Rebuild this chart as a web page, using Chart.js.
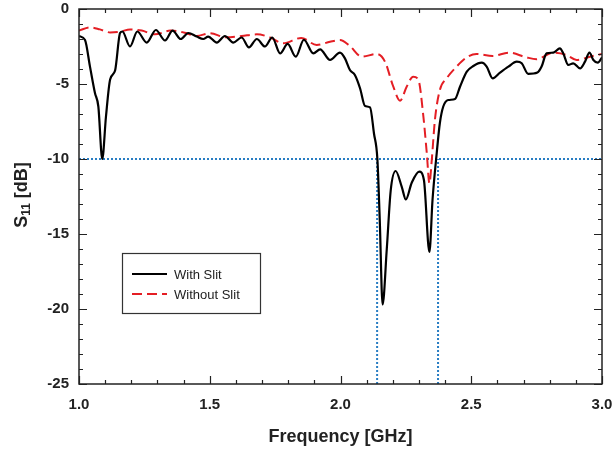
<!DOCTYPE html>
<html>
<head>
<meta charset="utf-8">
<script src="https://cdn.jsdelivr.net/npm/chart.js@4.4.0/dist/chart.umd.min.js"></script>
<style>
  html, body { margin: 0; padding: 0; background: #fff; }
  #wrap { width: 612px; height: 454px; }
</style>
</head>
<body>
<div id="wrap"><canvas id="s11"></canvas></div>
<script>
// With Slit (black solid)
const slitFreq = [1.0, 1.023, 1.042, 1.061, 1.074, 1.089, 1.103, 1.119, 1.138, 1.157, 1.166, 1.195, 1.223, 1.259, 1.294, 1.329, 1.358, 1.389, 1.418, 1.45, 1.475, 1.494, 1.527, 1.558, 1.59, 1.622, 1.65, 1.68, 1.711, 1.739, 1.769, 1.798, 1.829, 1.86, 1.896, 1.922, 1.96, 1.998, 2.017, 2.036, 2.055, 2.075, 2.094, 2.113, 2.128, 2.141, 2.15, 2.161, 2.177, 2.192, 2.211, 2.234, 2.25, 2.272, 2.301, 2.319, 2.34, 2.352, 2.368, 2.38, 2.393, 2.412, 2.438, 2.457, 2.483, 2.508, 2.54, 2.559, 2.582, 2.61, 2.642, 2.674, 2.693, 2.718, 2.753, 2.769, 2.788, 2.814, 2.839, 2.852, 2.871, 2.89, 2.916, 2.935, 2.952, 2.967, 2.984, 3.0];
const slitS11 = [-1.8, -2.07, -3.84, -5.6, -6.5, -10.0, -7.2, -4.7, -4.1, -1.6, -1.5, -2.5, -1.5, -2.24, -1.4, -2.1, -1.44, -2.0, -1.6, -1.84, -2.0, -1.84, -2.24, -1.8, -2.24, -1.9, -2.56, -2.0, -2.5, -1.9, -2.96, -2.33, -3.18, -2.05, -2.96, -2.69, -3.4, -2.91, -3.29, -4.07, -4.4, -5.3, -6.47, -6.56, -8.3, -10.0, -14.0, -19.7, -16.0, -12.1, -10.8, -11.84, -12.7, -11.6, -10.84, -11.4, -16.2, -12.7, -9.6, -7.6, -6.5, -6.07, -6.0, -5.18, -4.18, -3.8, -3.58, -3.84, -4.62, -4.24, -3.84, -3.51, -3.62, -4.33, -4.24, -3.84, -2.96, -2.91, -2.62, -2.96, -3.73, -3.62, -3.96, -3.51, -2.91, -3.4, -3.58, -3.22];

// Without Slit (red dashed)
const noSlitFreq = [1.0, 1.042, 1.08, 1.119, 1.157, 1.195, 1.24, 1.29, 1.35, 1.4, 1.45, 1.5, 1.564, 1.622, 1.68, 1.73, 1.781, 1.85, 1.909, 1.96, 1.998, 2.036, 2.081, 2.138, 2.17, 2.202, 2.228, 2.253, 2.278, 2.298, 2.317, 2.33, 2.34, 2.349, 2.361, 2.38, 2.406, 2.444, 2.483, 2.52, 2.582, 2.645, 2.71, 2.75, 2.814, 2.865, 2.903, 2.954, 3.0];
const noSlitS11 = [-1.44, -1.22, -1.36, -1.56, -1.51, -1.36, -1.44, -1.69, -1.44, -1.56, -1.8, -1.62, -1.89, -1.8, -1.69, -1.89, -2.29, -1.93, -2.4, -2.18, -2.07, -2.47, -3.18, -3.0, -3.51, -5.18, -6.11, -5.18, -4.51, -4.73, -7.18, -9.62, -11.62, -10.07, -7.4, -5.4, -4.62, -3.84, -3.22, -3.0, -3.13, -2.91, -3.22, -3.35, -2.91, -3.07, -3.4, -3.18, -3.0];

// -10 dB reference and band edges
const refLevel = -10;
const bandEdges = [2.14, 2.373];

const xMin = 1.0, xMax = 3.0;
const yMin = -25, yMax = 0;

const toPts = (xs, ys) => xs.map((x, i) => ({ x: x, y: ys[i] }));
const blue = 'rgb(40, 125, 195)';
const fam = '"Liberation Sans", Arial, sans-serif';

const refSets = [
    { data: [{ x: xMin, y: refLevel }, { x: xMax, y: refLevel }] },
    { data: [{ x: bandEdges[0], y: yMin }, { x: bandEdges[0], y: refLevel }] },
    { data: [{ x: bandEdges[1], y: yMin }, { x: bandEdges[1], y: refLevel }] }
].map(d => Object.assign(d, {
    label: '',
    borderColor: blue,
    borderWidth: 2,
    borderDash: [2, 2],
    pointRadius: 0,
    tension: 0
}));

// ticks drawn inward on all four sides, plus frame, titles, legend
const decorPlugin = {
    id: 'decor',
    afterDraw(chart) {
        const c = chart.ctx;
        const a = chart.chartArea;
        const xs = chart.scales.x, ys = chart.scales.y;
        c.save();
        c.strokeStyle = '#222';
        c.lineWidth = 1.2;
        c.beginPath();
        for (let i = 0; i <= 20; i++) {
            const v = xMin + i * 0.1;
            const px = Math.round(xs.getPixelForValue(v)) + 0.5;
            const len = (i % 5 === 0) ? 8 : 4;
            c.moveTo(px, a.bottom); c.lineTo(px, a.bottom - len);
            c.moveTo(px, a.top); c.lineTo(px, a.top + len);
        }
        for (let v = yMin; v <= yMax; v++) {
            const py = Math.round(ys.getPixelForValue(v)) + 0.5;
            const len = (v % 5 === 0) ? 8 : 4;
            c.moveTo(a.left, py); c.lineTo(a.left + len, py);
            c.moveTo(a.right, py); c.lineTo(a.right - len, py);
        }
        c.stroke();

        c.lineWidth = 1.5;
        c.strokeRect(a.left, a.top, a.right - a.left, a.bottom - a.top);

        // x title
        c.fillStyle = '#222';
        c.font = 'bold 18px ' + fam;
        c.textAlign = 'center';
        c.textBaseline = 'middle';
        c.fillText('Frequency [GHz]', (a.left + a.right) / 2, 437);

        // y title with subscript
        c.save();
        c.translate(20, 195);
        c.rotate(-Math.PI / 2);
        const big = 'bold 18px ' + fam;
        const small = 'bold 12px ' + fam;
        c.font = big; const wS = c.measureText('S').width;
        c.font = small; const w11 = c.measureText('11').width;
        c.font = big; const wRest = c.measureText(' [dB]').width;
        let x0 = -(wS + w11 + wRest) / 2;
        c.textAlign = 'left';
        c.textBaseline = 'alphabetic';
        c.font = big; c.fillText('S', x0, 7); x0 += wS;
        c.font = small; c.fillText('11', x0, 10); x0 += w11;
        c.font = big; c.fillText(' [dB]', x0, 7);
        c.restore();

        // legend box
        const lx = 122, ly = 253, lw = 138, lh = 60;
        c.fillStyle = '#fff';
        c.fillRect(lx, ly, lw, lh);
        c.strokeStyle = '#333';
        c.lineWidth = 1.2;
        c.strokeRect(lx + 0.5, ly + 0.5, lw, lh);
        const items = chart.data.datasets.slice(0, 2);
        items.forEach((ds, i) => {
            const yy = 274 + i * 20;
            c.beginPath();
            c.strokeStyle = ds.borderColor;
            c.lineWidth = 2;
            c.setLineDash(ds.borderDash || []);
            c.moveTo(132, yy); c.lineTo(167, yy);
            c.stroke();
            c.setLineDash([]);
            c.fillStyle = '#222';
            c.font = '13px ' + fam;
            c.textAlign = 'left';
            c.textBaseline = 'middle';
            c.fillText(ds.label, 174, yy + 1);
        });
        c.restore();
    }
};

const ctx = document.getElementById('s11').getContext('2d');
const chart = new Chart(ctx, {
    type: 'line',
    data: {
        datasets: [
            {
                label: 'With Slit',
                data: toPts(slitFreq, slitS11),
                borderColor: '#000',
                borderWidth: 2.2,
                pointRadius: 0,
                cubicInterpolationMode: 'monotone'
            },
            {
                label: 'Without Slit',
                data: toPts(noSlitFreq, noSlitS11),
                borderColor: 'rgb(228, 30, 36)',
                borderWidth: 2,
                borderDash: [10, 5],
                pointRadius: 0,
                cubicInterpolationMode: 'monotone'
            }
        ].concat(refSets)
    },
    options: {
        responsive: true,
        maintainAspectRatio: false,
        animation: false,
        layout: { padding: { top: 9, right: 10, left: 0, bottom: 0 } },
        plugins: {
            legend: { display: false },
            tooltip: { enabled: false }
        },
        scales: {
            x: {
                type: 'linear',
                min: xMin,
                max: xMax,
                grid: { display: false, drawTicks: false },
                border: { display: false },
                afterFit: s => {
                    s.height = 70;
                    s.paddingLeft = 0;
                    s.paddingRight = 0;
                },
                ticks: {
                    stepSize: 0.5,
                    padding: 12,
                    color: '#222',
                    maxRotation: 0,
                    font: { family: fam, size: 15, weight: 'bold' },
                    callback: v => v.toFixed(1)
                }
            },
            y: {
                min: yMin,
                max: yMax,
                grid: { display: false, drawTicks: false },
                border: { display: false },
                afterFit: s => {
                    s.width = 79;
                    s.paddingTop = 0;
                    s.paddingBottom = 0;
                },
                ticks: {
                    stepSize: 5,
                    padding: 10,
                    color: '#222',
                    font: { family: fam, size: 15, weight: 'bold' }
                }
            }
        }
    },
    plugins: [decorPlugin]
});
</script>
</body>
</html>
